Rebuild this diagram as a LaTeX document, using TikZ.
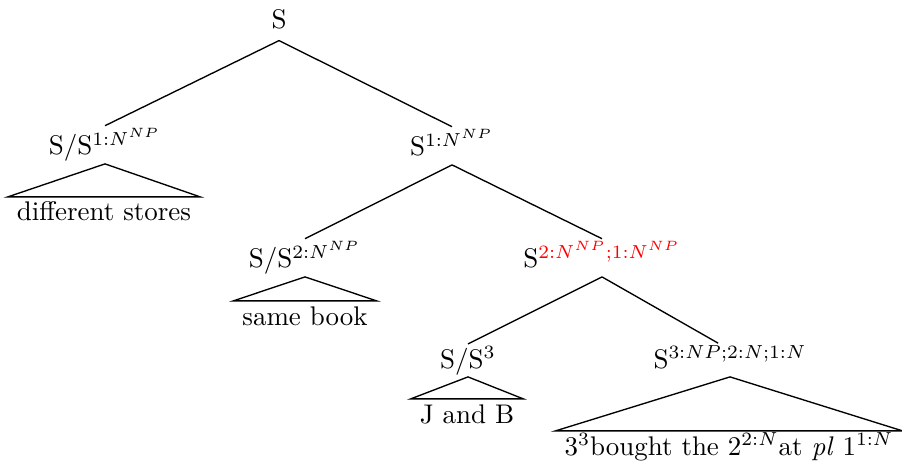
\documentclass[tikz,border=0pt]{standalone}
\usepackage{xcolor}
\begin{document}
\begin{tikzpicture}[x=0.371pt,y=-0.371pt,
  lab/.style={anchor=base,inner xsep=0.5pt,inner ysep=0.6pt,text depth=2.5pt},
  leaf/.style={anchor=base,inner xsep=3.2pt,inner ysep=1.8pt,text height=6.94pt},
  br/.style={line width=0.5pt},
  roof/.style={line width=0.5pt}]
\useasboundingbox (0,0) rectangle (902,464);
\node[lab,inner ysep=1.6pt] (root) at (279,29) {S};
\node[lab] (l1) at (105,155) {S/S$^{1:N^{NP}}$};
\node[lab] (r1) at (452,156) {S$^{1:N^{NP}}$};
\node[lab] (l2) at (305,268) {S/S$^{2:N^{NP}}$};
\node[lab] (r2) at (602,268) {S$^{\color{red}2:N^{NP};1:N^{NP}}$};
\node[lab] (l3) at (468,368) {S/S$^{3}$};
\node[lab] (r3) at (730,368) {S$^{3:NP;2:N;1:N}$};
\node[leaf] (t1) at (104,221) {different stores};
\node[leaf] (t2) at (305,325) {same book};
\node[leaf] (t3) at (467,423) {J and B};
\node[leaf] (t4) at (729,455) {$3^3$bought the $2^{2:N}$at \textit{pl} $1^{1:N}$};
\draw[br] (root.south) -- (l1.north);
\draw[br] (root.south) -- (r1.north);
\draw[br] (r1.south) -- (l2.north);
\draw[br] (r1.south) -- (r2.north);
\draw[br] (r2.south) -- (l3.north);
\draw[br] (r2.south) -- ([xshift=-4.4pt]r3.north);
\draw[roof] (l1.south) -- (t1.north west) -- (t1.north east) -- cycle;
\draw[roof] (l2.south) -- (t2.north west) -- (t2.north east) -- cycle;
\draw[roof] (l3.south) -- (t3.north west) -- (t3.north east) -- cycle;
\draw[roof] (r3.south) -- (t4.north west) -- (t4.north east) -- cycle;
\end{tikzpicture}
\end{document}
